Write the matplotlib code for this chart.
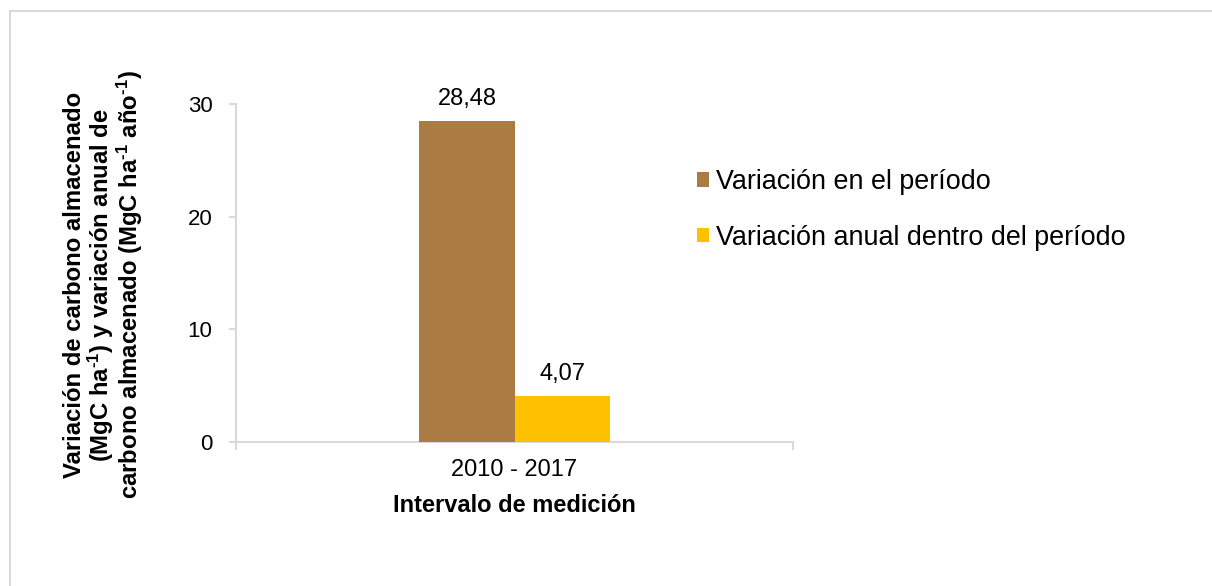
import matplotlib
matplotlib.use("Agg")
import matplotlib.pyplot as plt
from matplotlib.lines import Line2D
from matplotlib.ticker import FixedLocator, NullFormatter

plt.rcParams["font.family"] = ["Liberation Sans", "DejaVu Sans"]
plt.rcParams["mathtext.fontset"] = "custom"
plt.rcParams["mathtext.rm"] = "Liberation Sans:bold"
plt.rcParams["mathtext.it"] = "Liberation Sans:bold"
plt.rcParams["mathtext.bf"] = "Liberation Sans:bold"

# Data
categories = ["2010 - 2017"]
series_names = ["Variación en el período", "Variación anual dentro del período"]
series_values = [[28.48], [4.07]]
value_labels = [["28,48"], ["4,07"]]
y_ticks = [0, 10, 20, 30]
colors = ["#AA7B43", "#FFC000"]
axis_color = "#D9D9D9"

W, H = 1212, 586
fig = plt.figure(figsize=(W / 100, H / 100), dpi=100)

# Outer chart-area border (top and left edges visible)
fig.add_artist(Line2D([9.5 / W, 9.5 / W], [0, 1 - 10.5 / H], color=axis_color, lw=1.5))
fig.add_artist(Line2D([9.5 / W, 1], [1 - 10.5 / H, 1 - 10.5 / H], color=axis_color, lw=1.5))

ax = fig.add_axes([236 / W, 1 - 442 / H, (793 - 236) / W, (442 - 104) / H])

bar_w = 0.1706
n = len(series_values)
for i, (name, vals, labs, c) in enumerate(zip(series_names, series_values, value_labels, colors)):
    xs = [k + (i - (n - 1) / 2) * bar_w for k in range(len(categories))]
    bars = ax.bar(xs, vals, width=bar_w, color=c, label=name, zorder=3)
    for b, lab in zip(bars, labs):
        ax.annotate(lab, (b.get_x() + b.get_width() / 2, b.get_height()),
                    xytext=(0, 8), textcoords="offset points",
                    ha="center", va="bottom", fontsize=17)

ax.set_xlim(-0.5, len(categories) - 0.5)
ax.set_ylim(0, 30)
ax.set_yticks(y_ticks)
ax.set_yticklabels([str(t) for t in y_ticks])

ax.set_xticks(range(len(categories)))
ax.set_xticklabels(categories)
ax.xaxis.set_minor_locator(FixedLocator([k - 0.5 for k in range(len(categories) + 1)]))
ax.xaxis.set_minor_formatter(NullFormatter())
ax.tick_params(axis="x", which="major", length=0, pad=12, labelsize=17)
ax.tick_params(axis="x", which="minor", length=6, width=1.5, color=axis_color)
ax.tick_params(axis="y", length=5, width=1.5, color=axis_color, pad=12, labelsize=16)

for s in ["top", "right"]:
    ax.spines[s].set_visible(False)
for s in ["left", "bottom"]:
    ax.spines[s].set_color(axis_color)
    ax.spines[s].set_linewidth(1.5)

ax.set_xlabel("Intervalo de medición", fontsize=17, fontweight="bold")
ax.xaxis.set_label_coords(0.5, (442 - 512) / 338)
ax.xaxis.label.set_va("baseline")

ax.set_ylabel("Variación de carbono almacenado\n"
              r"(MgC ha$^{\text{-}1}$) y variación anual de" "\n"
              r"carbono almacenado (MgC ha$^{\text{-}1}$ año$^{\text{-}1}$)",
              fontsize=17.2, fontweight="bold", linespacing=0.98)
ax.yaxis.set_label_coords((104 - 236) / 557, (442 - 285) / 338)
ax.yaxis.label.set_va("center")

ax.legend(loc="upper left", bbox_to_anchor=(697 / W, 1 - 169 / H), bbox_transform=fig.transFigure,
          frameon=False, fontsize=19.4, handlelength=0.45, handleheight=0.45,
          handletextpad=0.25, labelspacing=1.1, borderaxespad=0, borderpad=0)

fig.savefig("out.png", dpi=100)
